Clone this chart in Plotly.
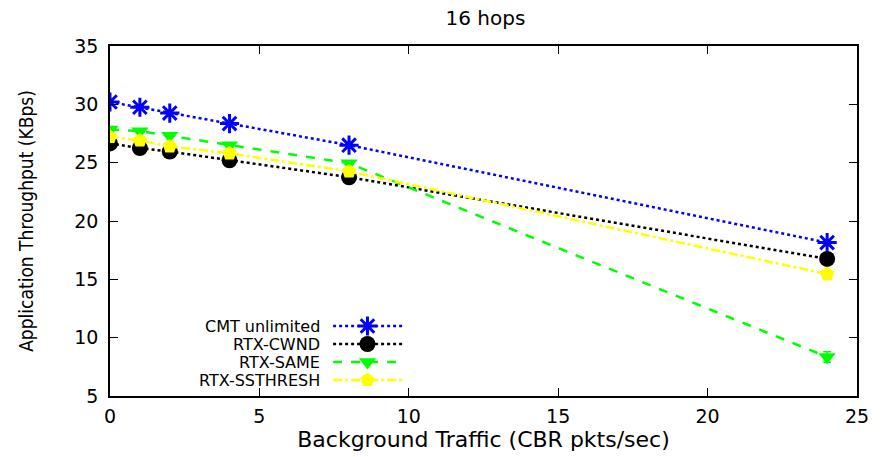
import plotly.graph_objects as go

x_traffic = [0, 1, 2, 4, 8, 24]
cmt_unlimited = [30.2, 29.75, 29.25, 28.35, 26.5, 18.15]
rtx_cwnd = [26.65, 26.25, 25.95, 25.2, 23.75, 16.75]
rtx_same = [27.85, 27.7, 27.3, 26.5, 24.95, 8.35]
rtx_same_err = [0, 0, 0, 0, 0, 0.45]
rtx_ssthresh = [27.2, 26.9, 26.4, 25.8, 24.25, 15.45]

series_names = ["CMT unlimited", "RTX-CWND", "RTX-SAME", "RTX-SSTHRESH"]
series_values = [cmt_unlimited, rtx_cwnd, rtx_same, rtx_ssthresh]
colors = ["#0000ff", "#000000", "#00ff00", "#ffff00"]
dashes = ["dot", "dot", "dash", "dashdot"]
symbols = ["asterisk-open", "circle", "triangle-down", "pentagon"]
sizes = [16, 16, 15, 15]

WIDE = "DejaVu Sans, Verdana, sans-serif"
NARROW = "Liberation Sans Narrow, DejaVu Sans Condensed, Liberation Sans, sans-serif"

fig = go.Figure()

def marker_for(i):
    return dict(symbol=symbols[i], size=sizes[i], color=colors[i],
                line=dict(color=colors[i], width=3 if i == 0 else 0))

for i, (name, vals) in enumerate(zip(series_names, series_values)):
    kw = {}
    if name == "RTX-SAME":
        kw["error_y"] = dict(type="data", array=rtx_same_err, visible=True,
                             color=colors[i], thickness=1.5, width=4)
    fig.add_trace(go.Scatter(
        x=x_traffic, y=vals, mode="lines+markers", name=name,
        line=dict(color=colors[i], dash=dashes[i], width=2.5),
        marker=marker_for(i), showlegend=False, **kw))

# gnuplot-style key: text right-aligned, line sample to its right
key_rows = [326, 344, 362, 380]
for i, name in enumerate(series_names):
    fig.add_trace(go.Scatter(
        x=[334, 405], y=[key_rows[i], key_rows[i]], mode="lines",
        line=dict(color=colors[i], dash=dashes[i], width=2.5),
        xaxis="x2", yaxis="y2", showlegend=False, hoverinfo="skip"))
    fig.add_trace(go.Scatter(
        x=[368.5], y=[key_rows[i]], mode="markers", marker=marker_for(i),
        xaxis="x2", yaxis="y2", showlegend=False, hoverinfo="skip"))
    fig.add_annotation(x=322, y=key_rows[i], xref="x2", yref="y2",
                       text=name, showarrow=False, xanchor="right",
                       yanchor="middle", borderpad=0,
                       font=dict(family=WIDE, size=16, color="black"))

axis_common = dict(showgrid=False, zeroline=False, showline=True,
                   linecolor="black", linewidth=1.5, mirror="ticks",
                   ticks="inside", ticklen=8, tickwidth=1, tickcolor="black",
                   tickfont=dict(family=WIDE, size=19, color="black"))

fig.update_layout(
    width=881, height=457,
    margin=dict(l=110, r=21, t=46, b=61),
    paper_bgcolor="white", plot_bgcolor="white",
    title=dict(text="16 hops", x=0.551, xanchor="center", y=0.96,
               yanchor="middle",
               font=dict(family=WIDE, size=20, color="black")),
    xaxis=dict(range=[0, 25], tickvals=[0, 5, 10, 15, 20, 25],
               ticklabelstandoff=2,
               title=dict(text="Background Traffic (CBR pkts/sec)",
                          font=dict(family=WIDE, size=22, color="black"),
                          standoff=3),
               **axis_common),
    yaxis=dict(range=[5, 35], tickvals=[5, 10, 15, 20, 25, 30, 35],
               ticklabelstandoff=6,
               title=dict(text="Application Throughput (KBps)",
                          font=dict(family=NARROW, size=19, color="black"),
                          standoff=36),
               **axis_common),
    xaxis2=dict(range=[110, 860], overlaying="x", visible=False,
                fixedrange=True),
    yaxis2=dict(range=[396, 46], overlaying="y", visible=False,
                fixedrange=True),
)

fig.write_html("out.html")
